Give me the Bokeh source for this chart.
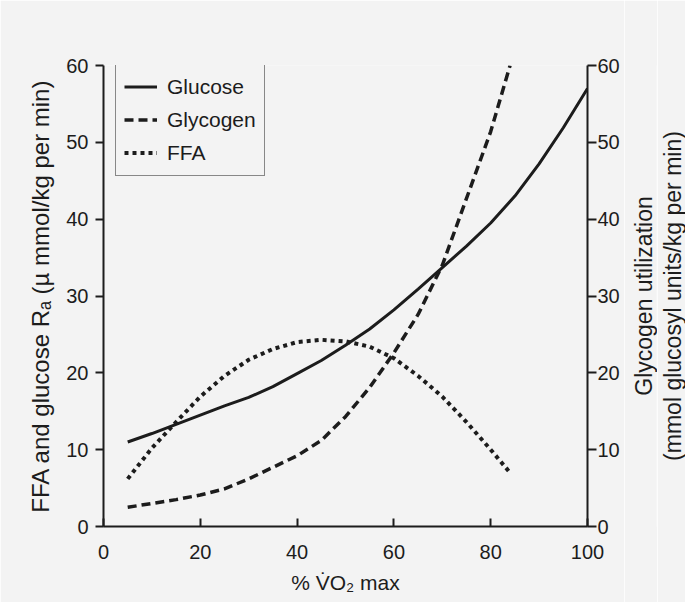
from bokeh.plotting import figure
from bokeh.layouts import row
from bokeh.models import Range1d, LinearAxis, Legend, LegendItem, FixedTicker
from bokeh.embed import file_html
from bokeh.resources import INLINE

# ---- data ----
pct_glucose = [5, 10, 15, 20, 25, 30, 35, 40, 45, 50, 55, 60, 65, 70, 75, 80, 85, 90, 95, 100]
glucose = [11.0, 12.1, 13.3, 14.5, 15.7, 16.8, 18.2, 19.9, 21.6, 23.6, 25.7, 28.2, 30.9, 33.7,
           36.5, 39.5, 43.0, 47.2, 51.9, 57.0]

pct_glycogen = [5, 10, 15, 20, 25, 30, 35, 40, 45, 50, 55, 60, 65, 70, 75, 80, 84]
glycogen = [2.5, 3.0, 3.5, 4.1, 4.9, 6.2, 7.7, 9.2, 11.2, 14.3, 18.1, 22.6, 27.6, 34.0, 42.7, 51.4, 60.0]

pct_ffa = [5, 10, 15, 20, 25, 30, 35, 40, 45, 50, 55, 60, 65, 70, 75, 80, 84]
ffa = [6.2, 10.2, 13.6, 16.9, 19.6, 21.7, 23.1, 24.0, 24.3, 24.1, 23.4, 21.9, 19.6, 16.9, 13.6, 10.0, 7.0]

x_ticks = [0, 20, 40, 60, 80, 100]
y_ticks = [0, 10, 20, 30, 40, 50, 60]

right_label_lines = ["Glycogen utilization", "(mmol glucosyl units/kg per min)"]

BG = "#f3f3f3"
INK = "#1c1c1c"
FONT = "Liberation Sans"
TOP, BOTTOM = 65, 76

p = figure(width=624, height=602, output_backend="svg", toolbar_location=None,
           x_range=Range1d(0, 100), y_range=Range1d(0, 60),
           min_border_left=103, min_border_right=37, min_border_top=TOP, min_border_bottom=BOTTOM,
           background_fill_color=BG, border_fill_color=BG, outline_line_color=None)
p.extra_y_ranges = {"glyc": Range1d(0, 60)}
p.xgrid.visible = False
p.ygrid.visible = False

def style_axis(ax):
    ax.axis_line_color = INK
    ax.axis_line_width = 2
    ax.major_tick_line_color = INK
    ax.major_tick_line_width = 2
    ax.minor_tick_line_color = None
    ax.major_label_text_font = FONT
    ax.major_label_text_font_size = "20px"
    ax.major_label_text_color = INK
    ax.axis_label_text_font = FONT
    ax.axis_label_text_font_size = "20px"
    ax.axis_label_text_font_style = "normal"
    ax.axis_label_text_color = INK

xa = p.xaxis[0]
style_axis(xa)
xa.ticker = FixedTicker(ticks=x_ticks)
xa.major_tick_in = 8
xa.major_tick_out = 0
xa.major_label_standoff = 18
xa.axis_label = "% V\u0307O\u2082 max"
xa.axis_label_text_font_size = "21px"
xa.axis_label_standoff = 9

ya = p.yaxis[0]
style_axis(ya)
ya.ticker = FixedTicker(ticks=y_ticks)
ya.major_tick_in = 0
ya.major_tick_out = 8
ya.major_label_standoff = 7
ya.axis_label = "FFA and glucose R\u2090 (\u00b5 mmol/kg per min)"
ya.axis_label_text_font_size = "24px"
ya.axis_label_standoff = 9

ra = LinearAxis(y_range_name="glyc")
style_axis(ra)
ra.ticker = FixedTicker(ticks=y_ticks)
ra.major_tick_in = 0
ra.major_tick_out = 9
ra.major_label_standoff = 1
p.add_layout(ra, "right")

r_glu = p.line(pct_glucose, glucose, line_color=INK, line_width=3)
r_gly = p.line(pct_glycogen, glycogen, y_range_name="glyc", line_color=INK, line_width=3.5,
               line_dash="9 5")
r_ffa = p.line(pct_ffa, ffa, line_color=INK, line_width=4, line_dash="4 4")

legend = Legend(items=[LegendItem(label="Glucose", renderers=[r_glu]),
                       LegendItem(label="Glycogen", renderers=[r_gly]),
                       LegendItem(label="FFA", renderers=[r_ffa])],
                location=(12, 350), margin=0, padding=8, spacing=4,
                label_height=29, glyph_height=29, glyph_width=33, label_standoff=10,
                label_text_font=FONT, label_text_font_size="21px", label_text_color=INK,
                border_line_color=INK, border_line_width=1.5,
                background_fill_color=BG, background_fill_alpha=1.0)
p.add_layout(legend, "center")

# two narrow strips carrying the two lines of the right-hand axis title (reading upward)
def title_strip(text, width):
    s = figure(width=width, height=602, output_backend="svg", toolbar_location=None,
               x_range=Range1d(0, 1), y_range=Range1d(0, 1), x_axis_location=None,
               min_border_left=width - 1, min_border_right=0,
               min_border_top=TOP, min_border_bottom=BOTTOM,
               background_fill_color=BG, border_fill_color=BG, outline_line_color=None)
    s.xgrid.visible = False
    s.ygrid.visible = False
    ax = s.yaxis[0]
    ax.ticker = FixedTicker(ticks=[])
    ax.axis_line_color = None
    ax.major_tick_line_color = None
    ax.minor_tick_line_color = None
    ax.major_tick_in = 0
    ax.major_tick_out = 0
    ax.major_label_standoff = 0
    ax.axis_label = text
    ax.axis_label_standoff = 0
    ax.axis_label_text_font = FONT
    ax.axis_label_text_font_size = "23px"
    ax.axis_label_text_font_style = "normal"
    ax.axis_label_text_color = INK
    return s

q1 = title_strip(right_label_lines[0], 33)
q2 = title_strip(right_label_lines[1], 28)

open("out.html", "w").write(file_html(row(p, q1, q2), INLINE))
